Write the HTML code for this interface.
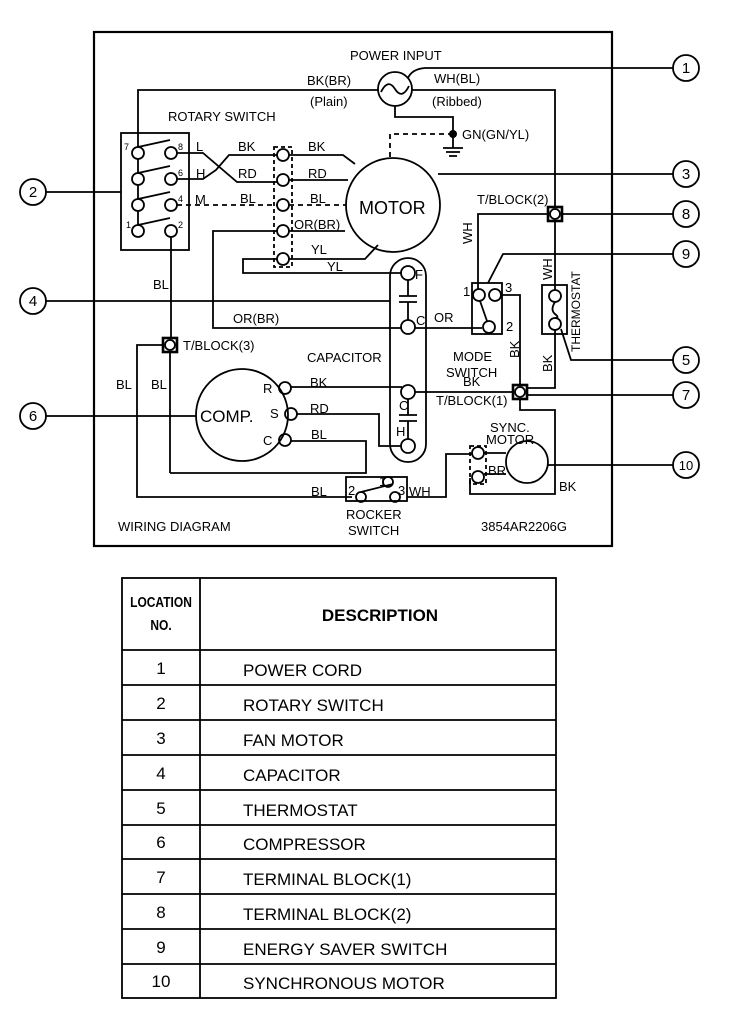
<!DOCTYPE html>
<html><head><meta charset="utf-8"><style>
body{margin:0;background:#fff}
svg text{font-family:"Liberation Sans",Arial,sans-serif;fill:#000}
</style></head><body>
<svg width="750" height="1021" viewBox="0 0 750 1021" xmlns="http://www.w3.org/2000/svg">
<g fill="none" stroke="#000" stroke-width="1.8">
<rect x="94" y="32" width="518" height="514" stroke-width="2.2"/>
<circle cx="395" cy="89" r="17"/>
<path d="M381 92 q7 -14 14 -3 t14 -3" />
<path d="M378 90 H138 V147"/>
<path d="M408 78 Q412 69 425 68 H673"/>
<path d="M412 90 H555 V207"/>
<path d="M395 106 V117 H453 V134"/>
<path d="M453 134 V148 M443 148 H463 M446 152 H460 M449 156 H457"/>
<path d="M453 134 H390 V158" stroke-dasharray="5,4"/>
<rect x="121" y="133" width="68" height="117"/>
<g>
<circle cx="138" cy="153" r="6"/><circle cx="171" cy="153" r="6"/>
<circle cx="138" cy="179" r="6"/><circle cx="171" cy="179" r="6"/>
<circle cx="138" cy="205" r="6"/><circle cx="171" cy="205" r="6"/>
<circle cx="138" cy="231" r="6"/><circle cx="171" cy="231" r="6"/>
<path d="M138 147 L170 140 M138 173 L170 166 M138 199 L170 192 M138 225 L170 218 M138 159 V173 M138 185 V199 M138 211 V225"/>
</g>
<path d="M45 192 H121"/>
<path d="M177 153 H203 L237 182 H277"/>
<path d="M177 179 H203 L216 170 L229 155 H277"/>
<path d="M177 205 H277" stroke-dasharray="5,4"/>
<rect x="274" y="147" width="18" height="120" stroke-dasharray="4,3"/>
<circle cx="283" cy="155" r="6"/><circle cx="283" cy="180" r="6"/><circle cx="283" cy="205" r="6"/><circle cx="283" cy="231" r="6"/><circle cx="283" cy="259" r="6"/>
<path d="M289 155 H343 L355 164"/>
<path d="M289 180 H348"/>
<path d="M289 205 H346" stroke-dasharray="5,4"/>
<path d="M289 231 H345"/>
<path d="M289 259 H365 L378 245"/>
<path d="M277 231 H213 V328 H402"/>
<path d="M277 259 H243 V273 H402"/>
<circle cx="393" cy="205" r="47"/>
<path d="M438 174 H673"/>
<path d="M45 301 H390"/>
<rect x="390" y="258" width="36" height="204" rx="18"/>
<circle cx="408" cy="273" r="7"/><circle cx="408" cy="327" r="7"/><circle cx="408" cy="392" r="7"/><circle cx="408" cy="446" r="7"/>
<path d="M408 280 V296 M399 296 H417 M399 302 H417 M408 302 V320"/>
<path d="M408 399 V415 M399 415 H417 M399 421 H417 M408 421 V439"/>
<path d="M415 328 H482"/>
<rect x="472" y="283" width="30" height="51"/>
<circle cx="479" cy="295" r="6"/><circle cx="495" cy="295" r="6"/><circle cx="489" cy="327" r="6"/>
<path d="M480 301 L487 321"/>
<path d="M478 289 V214 H549"/>
<path d="M488 283 L503 254 H673"/>
<path d="M501 295 H520 V386"/>
<rect x="548" y="207" width="14" height="14" stroke-width="2.6"/>
<circle cx="555" cy="214" r="5"/>
<path d="M562 214 H673"/>
<path d="M555 221 V290"/>
<rect x="542" y="285" width="25" height="49"/>
<circle cx="555" cy="296" r="6"/><circle cx="555" cy="324" r="6"/>
<path d="M555 302 Q550 310 555 314 Q560 318 555 318"/>
<path d="M555 330 V388 H527"/>
<path d="M561 329 L571 360 H673"/>
<rect x="513" y="385" width="14" height="14" stroke-width="2.6"/>
<circle cx="520" cy="392" r="5"/>
<path d="M527 395 H673"/>
<path d="M290 387 H402 M415 392 H513"/>
<path d="M520 399 V410 H555 V494 H470 V478"/>
<path d="M45 416 H196"/>
<circle cx="242" cy="415" r="46"/>
<circle cx="285" cy="388" r="6"/><circle cx="291" cy="414" r="6"/><circle cx="285" cy="440" r="6"/>
<path d="M297 414 H379 V446 H401"/>
<path d="M291 441 H366 V473 H170"/>
<rect x="163" y="338" width="14" height="14" stroke-width="2.6"/>
<circle cx="170" cy="345" r="5"/>
<path d="M171 237 V338"/>
<path d="M170 352 V473"/>
<path d="M163 345 H137 V497 H352"/>
<rect x="346" y="477" width="61" height="24"/>
<circle cx="388" cy="482" r="5"/><circle cx="361" cy="497" r="5"/><circle cx="395" cy="497" r="5"/>
<path d="M361 492 L393 484"/>
<path d="M407 497 H446 V454 H472"/>
<rect x="470" y="446" width="16" height="38" stroke-dasharray="4,3"/>
<circle cx="478" cy="453" r="6"/><circle cx="478" cy="477" r="6"/>
<path d="M484 453 H506 M484 474 H506"/>
<circle cx="527" cy="462" r="21"/>
<path d="M548 465 H673"/>
<circle cx="686" cy="68" r="13"/><circle cx="686" cy="174" r="13"/><circle cx="686" cy="214" r="13"/><circle cx="686" cy="254" r="13"/><circle cx="686" cy="360" r="13"/><circle cx="686" cy="395" r="13"/><circle cx="686" cy="465" r="13"/>
<circle cx="33" cy="192" r="13"/><circle cx="33" cy="301" r="13"/><circle cx="33" cy="416" r="13"/>
</g>
<g fill="#000"><circle cx="453" cy="134" r="4"/></g>
<g font-size="15" text-anchor="middle">
<text x="686" y="73">1</text><text x="686" y="179">3</text><text x="686" y="219">8</text><text x="686" y="259">9</text><text x="686" y="365">5</text><text x="686" y="400">7</text><text x="686" y="470" font-size="13">10</text>
<text x="33" y="197">2</text><text x="33" y="306">4</text><text x="33" y="421">6</text>
</g>
<g font-size="13">
<text x="350" y="60">POWER INPUT</text>
<text x="307" y="85">BK(BR)</text><text x="310" y="106">(Plain)</text>
<text x="434" y="83">WH(BL)</text><text x="432" y="106">(Ribbed)</text>
<text x="462" y="139">GN(GN/YL)</text>
<text x="168" y="121">ROTARY SWITCH</text>
<text x="196" y="151">L</text><text x="196" y="178">H</text><text x="195" y="204">M</text>
<text x="238" y="151">BK</text><text x="238" y="178">RD</text><text x="240" y="203">BL</text>
<text x="308" y="151">BK</text><text x="308" y="178">RD</text><text x="310" y="203">BL</text>
<text x="294" y="229">OR(BR)</text><text x="311" y="254">YL</text><text x="327" y="271">YL</text>
<text x="233" y="323">OR(BR)</text><text x="434" y="322">OR</text>
<text x="359" y="214" font-size="18">MOTOR</text>
<text x="477" y="204">T/BLOCK(2)</text>
<text x="453" y="361">MODE</text><text x="446" y="377">SWITCH</text>
<text x="463" y="296">1</text><text x="505" y="292">3</text><text x="506" y="331">2</text>
<text x="307" y="362">CAPACITOR</text>
<text x="183" y="350">T/BLOCK(3)</text>
<text x="153" y="289">BL</text><text x="116" y="389">BL</text><text x="151" y="389">BL</text>
<text x="200" y="422" font-size="17">COMP.</text>
<text x="263" y="393">R</text><text x="270" y="418">S</text><text x="263" y="445">C</text>
<text x="310" y="387">BK</text><text x="310" y="413">RD</text><text x="311" y="439">BL</text>
<text x="399" y="410">C</text><text x="396" y="436">H</text>
<text x="415" y="279">F</text><text x="416" y="325">C</text>
<text x="463" y="386">BK</text><text x="436" y="405">T/BLOCK(1)</text>
<text x="490" y="432">SYNC.</text><text x="486" y="444">MOTOR</text>
<text x="488" y="475">BR</text><text x="559" y="491">BK</text>
<text x="311" y="496">BL</text><text x="409" y="496">WH</text>
<text x="348" y="495">2</text><text x="379" y="486">1</text><text x="398" y="495">3</text>
<text x="346" y="519">ROCKER</text><text x="348" y="535">SWITCH</text>
<text x="118" y="531">WIRING DIAGRAM</text><text x="481" y="531">3854AR2206G</text>
<text font-size="9" x="124" y="150">7</text><text font-size="9" x="178" y="150">8</text><text font-size="9" x="178" y="176">6</text><text font-size="9" x="178" y="202">4</text><text font-size="9" x="126" y="228">1</text><text font-size="9" x="178" y="228">2</text>
<text transform="translate(472,244) rotate(-90)">WH</text>
<text transform="translate(552,280) rotate(-90)">WH</text>
<text transform="translate(519,358) rotate(-90)">BK</text>
<text transform="translate(552,372) rotate(-90)">BK</text>
<text transform="translate(580,352) rotate(-90)" font-size="12">THERMOSTAT</text>
</g>
<g fill="none" stroke="#000" stroke-width="1.8">
<rect x="122" y="578" width="434" height="420"/>
<path d="M200 578 V998"/>
<path d="M122 650 H556 M122 685 H556 M122 720 H556 M122 755 H556 M122 790 H556 M122 825 H556 M122 859 H556 M122 894 H556 M122 929 H556 M122 964 H556"/>
</g>
<g font-size="17">
<text x="161" y="607" font-size="15" font-weight="bold" text-anchor="middle" transform="translate(161,0) scale(0.8,1) translate(-161,0)">LOCATION</text>
<text x="161" y="630" font-size="15" font-weight="bold" text-anchor="middle" transform="translate(161,0) scale(0.8,1) translate(-161,0)">NO.</text>
<text x="380" y="621" font-weight="bold" text-anchor="middle">DESCRIPTION</text>
<g text-anchor="middle">
<text x="161" y="674">1</text><text x="161" y="709">2</text><text x="161" y="744">3</text><text x="161" y="779">4</text><text x="161" y="814">5</text><text x="161" y="848">6</text><text x="161" y="883">7</text><text x="161" y="918">8</text><text x="161" y="953">9</text><text x="161" y="987">10</text>
</g>
<text x="243" y="676">POWER CORD</text>
<text x="243" y="711">ROTARY SWITCH</text>
<text x="243" y="746">FAN MOTOR</text>
<text x="243" y="781">CAPACITOR</text>
<text x="243" y="816">THERMOSTAT</text>
<text x="243" y="850">COMPRESSOR</text>
<text x="243" y="885">TERMINAL BLOCK(1)</text>
<text x="243" y="920">TERMINAL BLOCK(2)</text>
<text x="243" y="955">ENERGY SAVER SWITCH</text>
<text x="243" y="989">SYNCHRONOUS MOTOR</text>
</g>
</svg>
</body></html>
